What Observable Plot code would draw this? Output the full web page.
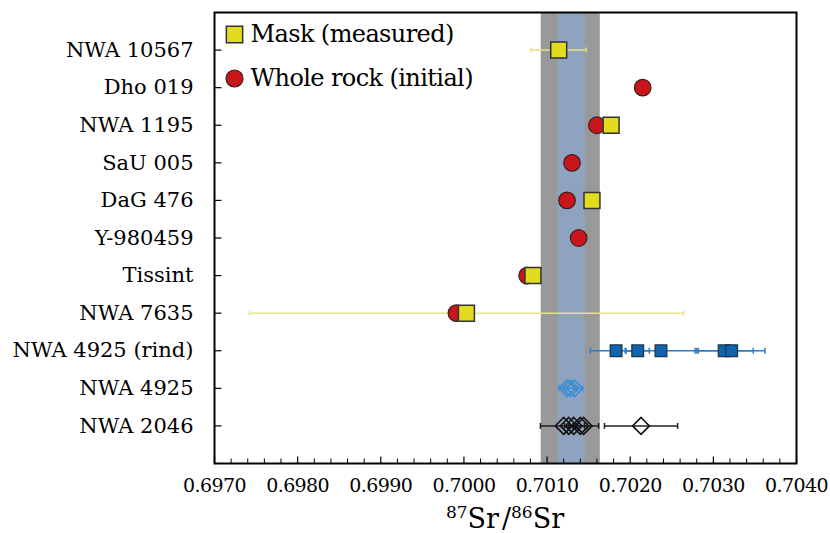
<!DOCTYPE html>
<html>
<head>
<meta charset="utf-8">
<script src="https://cdn.jsdelivr.net/npm/d3@7"></script>
<script src="https://cdn.jsdelivr.net/npm/@observablehq/plot@0.6"></script>
<style>
  html, body { margin: 0; padding: 0; background: white; }
  #chart { width: 830px; height: 533px; }
  #chart g[aria-label="x-axis tick label"] text { letter-spacing: -0.6px; }
  #chart g.legend-text text { letter-spacing: -0.6px; }
</style>
</head>
<body>
<div id="chart"></div>
<script>
// ---- data ----
const categories = ["NWA 10567","Dho 019","NWA 1195","SaU 005","DaG 476","Y-980459","Tissint","NWA 7635","NWA 4925 (rind)","NWA 4925","NWA 2046"];

const wholeRockSample = ["Dho 019","NWA 1195","SaU 005","DaG 476","Y-980459","Tissint","NWA 7635"];
const wholeRockValue  = [0.70215, 0.70160, 0.70130, 0.70124, 0.70138, 0.70076, 0.69991];

const maskSample = ["NWA 10567","NWA 1195","DaG 476","Tissint","NWA 7635"];
const maskValue  = [0.70114, 0.70177, 0.70154, 0.70083, 0.70003];
const maskError  = [0.00033, 0, 0, 0, 0.00261];

const rindValue = [0.70183, 0.70209, 0.70237, 0.70313, 0.70322];
const rindError = [0.00031, 0.00014, 0.00043, 0.00035, 0.00040];

const nwa4925Value = [0.70124, 0.70128, 0.70133];
const nwa4925Error = [0.00010, 0.00008, 0.00010];

const nwa2046Value = [0.70120, 0.70126, 0.70132, 0.70140, 0.70144, 0.70213];
const nwa2046Error = [0.00028, 0.00005, 0.00005, 0.00005, 0.00018, 0.00044];

const grayBand = [0.70093, 0.70164];
const blueBand = [0.70113, 0.70146];

const xMajorTicks = [0.6970, 0.6980, 0.6990, 0.7000, 0.7010, 0.7020, 0.7030, 0.7040];
const legendLabels = ["Mask (measured)", "Whole rock (initial)"];

// ---- build tables ----
const wholeRock = wholeRockSample.map((s, i) => ({sample: s, v: wholeRockValue[i]}));
const mask = maskSample.map((s, i) => ({sample: s, v: maskValue[i], e: maskError[i]}));
const rind = rindValue.map((v, i) => ({sample: "NWA 4925 (rind)", v, e: rindError[i]}));
const n4925 = nwa4925Value.map((v, i) => ({sample: "NWA 4925", v, e: nwa4925Error[i]}));
const n2046 = nwa2046Value.map((v, i) => ({sample: "NWA 2046", v, e: nwa2046Error[i]}));
const minorTicks = d3.range(0, 36).map(i => 0.697 + i * 0.0002).filter(t => Math.abs(((t - 0.697) / 0.001) - Math.round((t - 0.697) / 0.001)) > 1e-6);

// custom symbols
const vcap = h => ({draw(ctx) { ctx.moveTo(0, -h / 2); ctx.lineTo(0, h / 2); }});
const vtickUp = h => ({draw(ctx) { ctx.moveTo(0, 0); ctx.lineTo(0, -h); }});
const htickRight = w => ({draw(ctx) { ctx.moveTo(0, 0); ctx.lineTo(w, 0); }});

const SERIF = "DejaVu Serif";
const YELLOW = "#e1dc1e", YELLOW_BAR = "#e8e482", RED = "#c8161a", BLUE = "#0f64ae", BLUE_LT = "#3b8fd5";

function errorMarks(data, stroke, capH, sw) {
  const d = data.filter(r => r.e > 0);
  const ends = d.flatMap(r => [{sample: r.sample, x: r.v - r.e}, {sample: r.sample, x: r.v + r.e}]);
  return [
    Plot.ruleY(d, {y: "sample", x1: r => r.v - r.e, x2: r => r.v + r.e, stroke, strokeWidth: sw}),
    Plot.dot(ends, {x: "x", y: "sample", symbol: vcap(capH), fill: "none", stroke, strokeWidth: sw})
  ];
}

const fig = Plot.plot({
  width: 830,
  height: 533,
  marginLeft: 214,
  marginRight: 34,
  marginTop: 12,
  marginBottom: 70,
  style: {fontFamily: SERIF, fontSize: "21px", background: "white", color: "black", overflow: "visible"},
  x: {domain: [0.697, 0.704], label: null},
  y: {type: "point", domain: categories, padding: 1, round: false, label: null},
  marks: [
    Plot.rect([grayBand], {x1: d => d[0], x2: d => d[1], fill: "#999999"}),
    Plot.rect([blueBand], {x1: d => d[0], x2: d => d[1], fill: "#8fa2bf"}),
    ...errorMarks(mask, YELLOW_BAR, 5, 1.5),
    ...errorMarks(rind, "#2a7dc6", 6, 1.5),
    ...errorMarks(n4925, BLUE_LT, 6, 1.2),
    ...errorMarks(n2046, "#222", 6, 1.5),
    Plot.dot(wholeRock, {x: "v", y: "sample", r: 8.3, fill: RED, stroke: "#3a2020", strokeWidth: 1.2}),
    Plot.dot(mask, {x: "v", y: "sample", symbol: "square", r: 9, fill: YELLOW, stroke: "#333", strokeWidth: 1.5}),
    Plot.dot(rind, {x: "v", y: "sample", symbol: "square", r: 6.6, fill: BLUE, stroke: "#1d3550", strokeWidth: 1.3}),
    Plot.dot(n4925, {x: "v", y: "sample", symbol: "diamond2", r: 7.4, fill: "none", stroke: BLUE_LT, strokeWidth: 1.6}),
    Plot.dot(n2046, {x: "v", y: "sample", symbol: "diamond2", r: 7.6, fill: "none", stroke: "#111", strokeWidth: 1.6}),
    // inward ticks
    Plot.dot(xMajorTicks, {x: d => d, frameAnchor: "bottom", symbol: vtickUp(7), fill: "none", stroke: "black", strokeWidth: 1.2}),
    Plot.dot(minorTicks, {x: d => d, frameAnchor: "bottom", symbol: vtickUp(5), fill: "none", stroke: "black", strokeWidth: 1}),
    Plot.dot(categories, {y: d => d, frameAnchor: "left", symbol: htickRight(7), fill: "none", stroke: "black", strokeWidth: 1.2}),
    Plot.axisX({ticks: xMajorTicks, tickSize: 0, tickPadding: 15, tickFormat: d3.format(".4f"), label: null, fontFamily: SERIF, fontSize: 19}),
    Plot.axisY({tickSize: 0, tickPadding: 21, label: null, fontFamily: SERIF, fontSize: 21}),
    // legend
    Plot.dot([0], {frameAnchor: "top-left", dx: 20, dy: 22, symbol: "square", r: 9.2, fill: YELLOW, stroke: "#333", strokeWidth: 1.5}),
    Plot.dot([0], {frameAnchor: "top-left", dx: 20, dy: 66, r: 8.5, fill: RED, stroke: "#3a2020", strokeWidth: 1.2}),
    Plot.text([legendLabels[0]], {frameAnchor: "top-left", dx: 36, dy: 22, textAnchor: "start", lineAnchor: "middle", fontSize: 24, fontFamily: SERIF, className: "legend-text"}),
    Plot.text([legendLabels[1]], {frameAnchor: "top-left", dx: 36, dy: 66, textAnchor: "start", lineAnchor: "middle", fontSize: 24, fontFamily: SERIF, className: "legend-text"}),
    Plot.frame({stroke: "black", strokeWidth: 2})
  ]
});

// x-axis label with superscripts
const svg = d3.select(fig);
const lab = svg.append("text")
  .attr("x", (214 + 796) / 2)
  .attr("y", 528)
  .attr("text-anchor", "middle")
  .attr("font-family", SERIF)
  .attr("font-size", 27)
  .attr("fill", "black");
lab.append("tspan").attr("font-size", 17).attr("dy", -10).text("87");
lab.append("tspan").attr("dy", 10).text("Sr");
lab.append("tspan").attr("dx", 3).text("/");
lab.append("tspan").attr("font-size", 17).attr("dy", -10).text("86");
lab.append("tspan").attr("dy", 10).text("Sr");

document.getElementById("chart").appendChild(fig);
</script>
</body>
</html>
